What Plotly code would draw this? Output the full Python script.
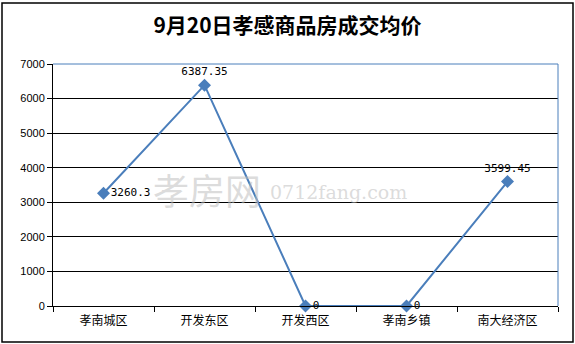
import plotly.graph_objects as go

categories = ["孝南城区", "开发东区", "开发西区", "孝南乡镇", "南大经济区"]
values = [3260.3, 6387.35, 0, 0, 3599.45]
label_text = ["3260.3", "6387.35", "0", "0", "3599.45"]
label_pos = ["middle right", "top center", "middle right", "middle right", "top center"]
y_ticks = [0, 1000, 2000, 3000, 4000, 5000, 6000, 7000]
title_text = "9月20日孝感商品房成交均价"

fig = go.Figure()
fig.add_trace(go.Scatter(
    x=categories, y=values, mode="lines+markers+text",
    line=dict(color="#4A7EBB", width=2),
    marker=dict(symbol="diamond", size=10, color="#4A7EBB"),
    text=label_text, textposition=label_pos,
    textfont=dict(family="DejaVu Sans Mono, monospace", size=11, color="black"),
    cliponaxis=False, showlegend=False,
))

fig.update_layout(
    width=575, height=344,
    margin=dict(l=53, r=17, t=64, b=38),
    paper_bgcolor="white", plot_bgcolor="white",
    title=dict(text="<b>" + title_text + "</b>", x=0.5, xanchor="center", y=0.925, yanchor="middle",
               font=dict(family="Noto Sans CJK SC", size=21, color="black")),
    xaxis=dict(type="category", showgrid=False, showline=True, linecolor="black", linewidth=1,
               ticks="outside", tickson="boundaries", ticklen=5, tickcolor="black",
               ticklabelstandoff=4,
               tickfont=dict(family="Noto Sans CJK SC", size=12, color="black"),
               range=[-0.5, 4.5], zeroline=False),
    yaxis=dict(range=[0, 7000], tickvals=y_ticks, showgrid=True, gridcolor="black", gridwidth=1,
               showline=True, linecolor="black", linewidth=1, ticks="outside", ticklen=5,
               tickcolor="black", tickfont=dict(family="Liberation Sans, Arial", size=11, color="black"),
               zeroline=False),
    shapes=[
        dict(type="rect", xref="paper", yref="paper", x0=-51/505, x1=1 + 15/505, y0=-36/242, y1=1 + 61/242,
             line=dict(color="black", width=1.5), layer="below"),
        dict(type="line", xref="paper", yref="paper", x0=0, x1=1, y0=1, y1=1,
             line=dict(color="#4A7EBB", width=1)),
        dict(type="line", xref="paper", yref="paper", x0=1, x1=1, y0=0, y1=1,
             line=dict(color="#4A7EBB", width=1)),
    ],
    annotations=[
        dict(text="孝房网", xref="paper", yref="paper", x=(263 - 53) / 505, y=(306 - 189) / 242,
             xanchor="right", showarrow=False,
             font=dict(family="Noto Sans CJK SC", size=36, color="rgba(190,190,190,0.55)")),
        dict(text="0712fang.com", xref="paper", yref="paper", x=(268 - 53) / 505, y=(306 - 192) / 242,
             xanchor="left", showarrow=False,
             font=dict(family="DejaVu Serif", size=19, color="rgba(190,190,190,0.55)")),
    ],
)

fig.write_html("out.html")
